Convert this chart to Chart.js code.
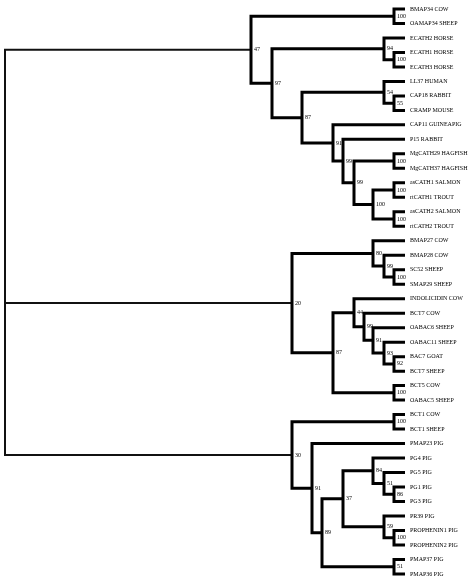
<!DOCTYPE html>
<html>
<head>
<meta charset="utf-8">
<script src="https://cdn.jsdelivr.net/npm/chart.js@4/dist/chart.umd.min.js"></script>
<style>
  html, body { margin: 0; padding: 0; background: #fff; }
  #wrap { width: 472px; height: 578px; }
</style>
</head>
<body>
<div id="wrap"><canvas id="tree"></canvas></div>
<script>
// leaves, top to bottom
const leafNames = [
    'BMAP34 COW', 'OAMAP34 SHEEP', 'ECATH2 HORSE', 'ECATH1 HORSE', 'ECATH3 HORSE',
    'LL37 HUMAN', 'CAP18 RABBIT', 'CRAMP MOUSE', 'CAP11 GUINEAPIG', 'P15 RABBIT',
    'MgCATH29 HAGFISH', 'MgCATH37 HAGFISH', 'asCATH1 SALMON', 'rtCATH1 TROUT',
    'asCATH2 SALMON', 'rtCATH2 TROUT', 'BMAP27 COW', 'BMAP28 COW', 'SC52 SHEEP',
    'SMAP29 SHEEP', 'INDOLICIDIN COW', 'BCT7 COW', 'OABAC6 SHEEP', 'OABAC11 SHEEP',
    'BAC7 GOAT', 'BCT7 SHEEP', 'BCT5 COW', 'OABAC5 SHEEP', 'BCT1 COW', 'BCT1 SHEEP',
    'PMAP23 PIG', 'PG4 PIG', 'PG5 PIG', 'PG1 PIG', 'PG3 PIG', 'PR39 PIG',
    'PROPHENIN1 PIG', 'PROPHENIN2 PIG', 'PMAP37 PIG', 'PMAP36 PIG'
];
const leafDepth = 100;

// internal nodes: children (number = leaf index, string = node id), depth from root, bootstrap
const nodeIds = ['root', 'n47', 'c1', 'n97', 'n94', 'c2', 'n87', 'n54', 'c3', 'n91', 'n99a', 'n99b',
    'c4', 'n100', 'c5', 'c6', 'n20', 'n80', 'n99c', 'c7', 'n87b', 'n44', 'n99d', 'n91b', 'n93',
    'c8', 'c9', 'n30', 'c10', 'n91c', 'n89', 'n37', 'n84', 'n51', 'c11', 'n59', 'c12', 'c13'];
const nodeKids = [
    ['n47', 'n20', 'n30'], ['c1', 'n97'], [0, 1], ['n94', 'n87'], [2, 'c2'], [3, 4],
    ['n54', 'n91'], [5, 'c3'], [6, 7], [8, 'n99a'], [9, 'n99b'], ['c4', 'n100'],
    [10, 11], ['c5', 'c6'], [12, 13], [14, 15], ['n80', 'n87b'], [16, 'n99c'], [17, 'c7'],
    [18, 19], ['n44', 'c9'], [20, 'n99d'], [21, 'n91b'], [22, 'n93'], [23, 'c8'],
    [24, 25], [26, 27], ['c10', 'n91c'], [28, 29], [30, 'n89'], ['n37', 'c13'],
    ['n84', 'n59'], [31, 'n51'], [32, 'c11'], [33, 34], [35, 'c12'], [36, 37], [38, 39]
];
const nodeDepth = [0, 61.5, 97.25, 66.75, 94.75, 97.25, 74.25, 94.75, 97.25, 82, 84.5, 87.25,
    97.25, 92, 97.25, 97.25, 71.75, 92, 94.75, 97.25, 82, 87.25, 89.75, 92, 94.75,
    97.25, 97.25, 71.75, 97.25, 76.75, 79.25, 84.5, 92, 94.75, 97.25, 94.75, 97.25, 97.25];
const nodeSupport = [null, 47, 100, 97, 94, 100, 87, 54, 55, 91, 99, 99,
    100, 100, 100, 100, 20, 80, 99, 100, 87, 44, 99, 91, 93,
    92, 100, 30, 100, 91, 89, 37, 84, 51, 86, 59, 100, 51];

// ---- layout helpers ----
const idx = id => nodeIds.indexOf(id);
const yCache = {};
function posOf(k) {
    if (typeof k === 'number') return { x: leafDepth, y: k };
    if (yCache[k] === undefined) {
        const kids = nodeKids[idx(k)].map(posOf);
        yCache[k] = (kids[0].y + kids[kids.length - 1].y) / 2;
    }
    return { x: nodeDepth[idx(k)], y: yCache[k] };
}

const innerPts = [];
const rootPts = [];
nodeIds.forEach((id, i) => {
    const me = posOf(id);
    const kids = nodeKids[i].map(posOf);
    const target = id === 'root' ? rootPts : innerPts;
    const first = kids[0], last = kids[kids.length - 1];
    target.push({ x: first.x, y: first.y }, { x: me.x, y: first.y },
        { x: me.x, y: last.y }, { x: last.x, y: last.y }, { x: null, y: null });
    kids.slice(1, -1).forEach(k => {
        target.push({ x: me.x, y: k.y }, { x: k.x, y: k.y }, { x: null, y: null });
    });
});

const supportLabels = {
    id: 'supportLabels',
    afterDatasetsDraw(chart) {
        const { ctx, scales } = chart;
        ctx.save();
        ctx.fillStyle = '#000';
        ctx.font = '6px "Liberation Serif", serif';
        ctx.textBaseline = 'middle';
        nodeIds.forEach((id, i) => {
            if (nodeSupport[i] === null) return;
            const p = posOf(id);
            ctx.fillText(String(nodeSupport[i]),
                scales.x.getPixelForValue(p.x) + 3, scales.y.getPixelForValue(p.y));
        });
        ctx.restore();
    }
};

new Chart(document.getElementById('tree'), {
    type: 'scatter',
    data: {
        datasets: [{
            data: innerPts,
            showLine: true,
            spanGaps: false,
            borderColor: '#000',
            borderWidth: 3,
            borderJoinStyle: 'miter',
            borderCapStyle: 'square',
            pointRadius: 0
        }, {
            data: rootPts,
            showLine: true,
            spanGaps: false,
            borderColor: '#111',
            borderWidth: 2,
            borderJoinStyle: 'miter',
            pointRadius: 0
        }]
    },
    options: {
        responsive: true,
        maintainAspectRatio: false,
        animation: false,
        layout: { padding: 0 },
        plugins: { legend: { display: false }, tooltip: { enabled: false } },
        scales: {
            x: {
                type: 'linear', display: false, min: -1.25, max: 100
            },
            y: {
                type: 'linear', position: 'right', reverse: true,
                min: -0.62, max: 39.28,
                grid: { display: false, drawTicks: false },
                border: { display: false },
                afterBuildTicks: scale => {
                    scale.ticks = leafNames.map((_, i) => ({ value: i }));
                },
                afterFit: scale => {
                    scale.width = 67;
                    scale.paddingTop = 0;
                    scale.paddingBottom = 0;
                },
                ticks: {
                    autoSkip: false,
                    padding: 5,
                    color: '#000',
                    font: { family: '"Liberation Serif", serif', size: 6 },
                    callback: v => leafNames[v]
                }
            }
        }
    },
    plugins: [supportLabels]
});
</script>
</body>
</html>
